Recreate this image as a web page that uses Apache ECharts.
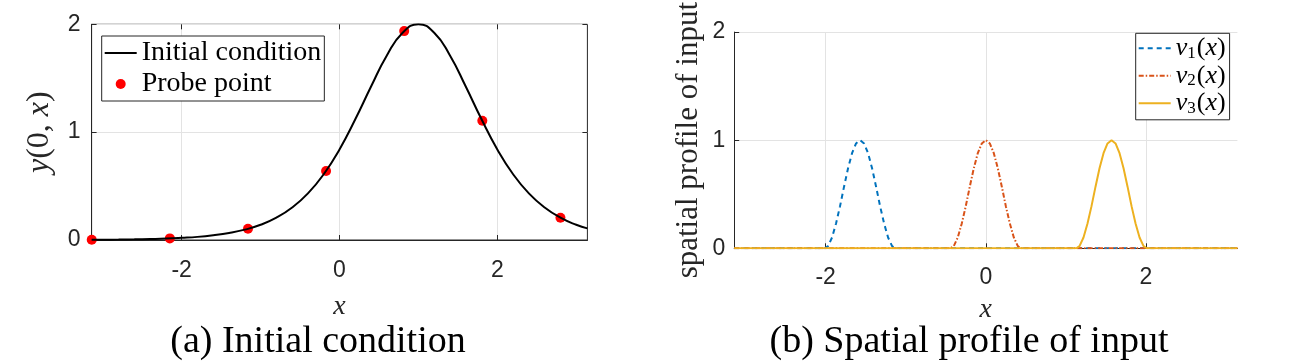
<!DOCTYPE html>
<html>
<head>
    <meta charset="UTF-8">
    <title>Initial condition and spatial profile of input</title>
</head>
<body style="margin:0">
    <div id="main" style="width: 1299px;height:361px;"></div>
    <script src="https://cdn.jsdelivr.net/npm/echarts@6.0.0/dist/echarts.min.js"></script>
    <script type="text/javascript">
        // ---- (a) initial condition ----
        const curveX = [-3.1416, -3.0, -2.8, -2.6, -2.4, -2.2, -2.0, -1.8, -1.6, -1.4, -1.2, -1.0, -0.8, -0.6, -0.4, -0.2,
            0.0, 0.2, 0.4, 0.6, 0.8, 1.0, 1.2, 1.4, 1.6, 1.8, 2.0, 2.2, 2.4, 2.6, 2.8, 3.0, 3.1416];
        const curveY = [0.002, 0.003, 0.004, 0.006, 0.009, 0.013, 0.020, 0.029, 0.044, 0.065, 0.096, 0.141, 0.207, 0.301, 0.432, 0.610,
            0.840, 1.119, 1.423, 1.711, 1.922, 2.0, 1.922, 1.711, 1.423, 1.119, 0.840, 0.610, 0.432, 0.301, 0.207, 0.141, 0.108];
        const probeX = [-3.14, -2.15, -1.16, -0.17, 0.82, 1.81, 2.80];
        const probeY = [0.002, 0.015, 0.104, 0.64, 1.937, 1.105, 0.207];

        // ---- (b) spatial profiles ----
        const bumpY = [0, 0, 0.02, 0.10, 0.23, 0.39, 0.57, 0.74, 0.88, 0.97, 1, 0.97, 0.88, 0.74, 0.57, 0.39, 0.23, 0.10, 0.02, 0, 0];
        const v1X = [-3.1416, -2.01, -1.97, -1.92, -1.87, -1.82, -1.77, -1.72, -1.67, -1.62, -1.57, -1.52, -1.47, -1.42, -1.37, -1.32, -1.27, -1.22, -1.17, -1.13, 3.1416];
        const v2X = [-3.1416, -0.44, -0.40, -0.35, -0.30, -0.25, -0.20, -0.15, -0.10, -0.05, 0, 0.05, 0.10, 0.15, 0.20, 0.25, 0.30, 0.35, 0.40, 0.44, 3.1416];
        const v3X = [-3.1416, 1.13, 1.17, 1.22, 1.27, 1.32, 1.37, 1.42, 1.47, 1.52, 1.57, 1.62, 1.67, 1.72, 1.77, 1.82, 1.87, 1.92, 1.97, 2.01, 3.1416];

        const xTicks = [-2, 0, 2];
        const yTicks = [0, 1, 2];

        function zip(xs, ys) {
            return xs.map(function (x, i) { return [x, ys[i]]; });
        }

        const tickFont = { fontFamily: 'Liberation Sans', fontSize: 23, color: '#262626' };
        const gridLine = { show: true, lineStyle: { color: '#e3e3e3', width: 1 } };
        const axisCol = { color: '#262626', width: 1 };
        // line entries in the legends: line only, no marker
        const noMark = { opacity: 0 };

        var myChart = echarts.init(document.getElementById('main'));

        let option = {
            animation: false,
            backgroundColor: '#fff',
            title: [
                { text: '(a) Initial condition', left: 318, top: 323, textAlign: 'center', padding: 0,
                  textStyle: { fontFamily: 'Liberation Serif', fontSize: 38, fontWeight: 'normal', color: '#000' } },
                { text: '(b) Spatial profile of input', left: 969, top: 323, textAlign: 'center', padding: 0,
                  textStyle: { fontFamily: 'Liberation Serif', fontSize: 38, fontWeight: 'normal', color: '#000' } }
            ],
            grid: [
                { left: 91.6, top: 24.3, width: 495.8, height: 215.7, show: true, borderColor: '#262626', borderWidth: 1 },
                { left: 734.2, top: 24.3, width: 503.2, height: 224 }
            ],
            legend: [
                {
                    data: [{ name: 'Initial condition', itemStyle: noMark }, 'Probe point'],
                    orient: 'vertical', left: 101.7, top: 36,
                    itemWidth: 32, itemHeight: 10, itemGap: 3,
                    padding: [3, 3, 3, 2],
                    borderColor: '#262626', borderWidth: 1, backgroundColor: '#fff',
                    textStyle: { fontFamily: 'Liberation Serif', fontSize: 28, color: '#000' }
                },
                {
                    data: [{ name: 'v1', itemStyle: noMark }, { name: 'v2', itemStyle: noMark }, { name: 'v3', itemStyle: noMark }],
                    orient: 'vertical', left: 1135.7, top: 33.3,
                    itemWidth: 32, itemHeight: 8, itemGap: 1,
                    padding: [2, 4, 3, 2],
                    borderColor: '#262626', borderWidth: 1, backgroundColor: '#fff',
                    formatter: function (name) {
                        return '{i|v}{s|' + name.slice(1) + '}{n|(}{i|x}{n|)}';
                    },
                    textStyle: {
                        color: '#000',
                        rich: {
                            i: { fontFamily: 'Liberation Serif', fontStyle: 'italic', fontSize: 26 },
                            n: { fontFamily: 'Liberation Serif', fontSize: 26 },
                            s: { fontFamily: 'Liberation Serif', fontSize: 17, padding: [10, 1, 0, 0] }
                        }
                    }
                }
            ],
            xAxis: [
                {
                    gridIndex: 0, type: 'value', min: -Math.PI, max: Math.PI,
                    axisLine: { show: true, onZero: false, lineStyle: axisCol },
                    axisTick: { show: true, inside: true, length: 5, customValues: xTicks, lineStyle: axisCol },
                    axisLabel: Object.assign({ customValues: xTicks, margin: 19 }, tickFont),
                    splitLine: gridLine,
                    name: 'x', nameLocation: 'middle', nameGap: 53,
                    nameTextStyle: { fontFamily: 'Liberation Serif', fontStyle: 'italic', fontSize: 28, color: '#262626' }
                },
                {
                    gridIndex: 0, type: 'value', position: 'top', min: -Math.PI, max: Math.PI,
                    axisLine: { show: false, onZero: false },
                    axisTick: { show: true, inside: true, length: 5, customValues: xTicks, lineStyle: axisCol },
                    axisLabel: { show: false }, splitLine: { show: false }
                },
                {
                    gridIndex: 1, type: 'value', min: -Math.PI, max: Math.PI,
                    axisLine: { show: true, onZero: false, lineStyle: axisCol },
                    axisTick: { show: true, inside: true, length: 5, customValues: xTicks, lineStyle: axisCol },
                    axisLabel: Object.assign({ customValues: xTicks, margin: 18 }, tickFont),
                    splitLine: gridLine,
                    name: 'x', nameLocation: 'middle', nameGap: 47,
                    nameTextStyle: { fontFamily: 'Liberation Serif', fontStyle: 'italic', fontSize: 28, color: '#262626' }
                }
            ],
            yAxis: [
                {
                    gridIndex: 0, type: 'value', min: 0, max: 2, interval: 1,
                    axisLine: { show: true, onZero: false, lineStyle: axisCol },
                    axisTick: { show: true, inside: true, length: 5, customValues: yTicks, lineStyle: axisCol },
                    axisLabel: Object.assign({ customValues: yTicks, margin: 11 }, tickFont),
                    splitLine: gridLine,
                    name: '{i|y}{n|(0, }{i|x}{n|)}', nameLocation: 'middle', nameGap: 36,
                    nameTextStyle: {
                        color: '#262626',
                        rich: {
                            i: { fontFamily: 'Liberation Serif', fontStyle: 'italic', fontSize: 32 },
                            n: { fontFamily: 'Liberation Serif', fontSize: 32 }
                        }
                    }
                },
                {
                    gridIndex: 0, type: 'value', position: 'right', min: 0, max: 2, interval: 1,
                    axisLine: { show: false, onZero: false },
                    axisTick: { show: true, inside: true, length: 5, lineStyle: axisCol },
                    axisLabel: { show: false }, splitLine: { show: false }
                },
                {
                    gridIndex: 1, type: 'value', min: 0, max: 2, interval: 1,
                    axisLine: { show: true, onZero: false, lineStyle: axisCol },
                    axisTick: { show: true, inside: true, length: 5, lineStyle: axisCol },
                    axisLabel: Object.assign({ margin: 9 }, tickFont),
                    splitLine: gridLine,
                    name: 'spatial profile of input', nameLocation: 'middle', nameGap: 30,
                    nameTextStyle: { fontFamily: 'Liberation Serif', fontSize: 31, color: '#262626' }
                }
            ],
            series: [
                {
                    name: 'Initial condition', type: 'line', xAxisIndex: 0, yAxisIndex: 0,
                    data: zip(curveX, curveY), smooth: true, symbol: 'none',
                    lineStyle: { color: '#000', width: 2 }, itemStyle: { color: '#000' }
                },
                {
                    name: 'Probe point', type: 'scatter', xAxisIndex: 0, yAxisIndex: 0,
                    data: zip(probeX, probeY), symbolSize: 10, clip: false,
                    itemStyle: { color: '#ff0000', opacity: 1 }
                },
                {
                    name: 'v1', type: 'line', xAxisIndex: 2, yAxisIndex: 2,
                    data: zip(v1X, bumpY), symbol: 'none',
                    lineStyle: { color: '#0072BD', width: 2, type: [5, 4] }, itemStyle: { color: '#0072BD' }
                },
                {
                    name: 'v2', type: 'line', xAxisIndex: 2, yAxisIndex: 2,
                    data: zip(v2X, bumpY), symbol: 'none',
                    lineStyle: { color: '#D95319', width: 2, type: [5, 2, 1.5, 2] }, itemStyle: { color: '#D95319' }
                },
                {
                    name: 'v3', type: 'line', xAxisIndex: 2, yAxisIndex: 2,
                    data: zip(v3X, bumpY), symbol: 'none',
                    lineStyle: { color: '#EDB120', width: 2 }, itemStyle: { color: '#EDB120' }
                }
            ]
        };

        myChart.setOption(option);
    </script>
</body>
</html>
